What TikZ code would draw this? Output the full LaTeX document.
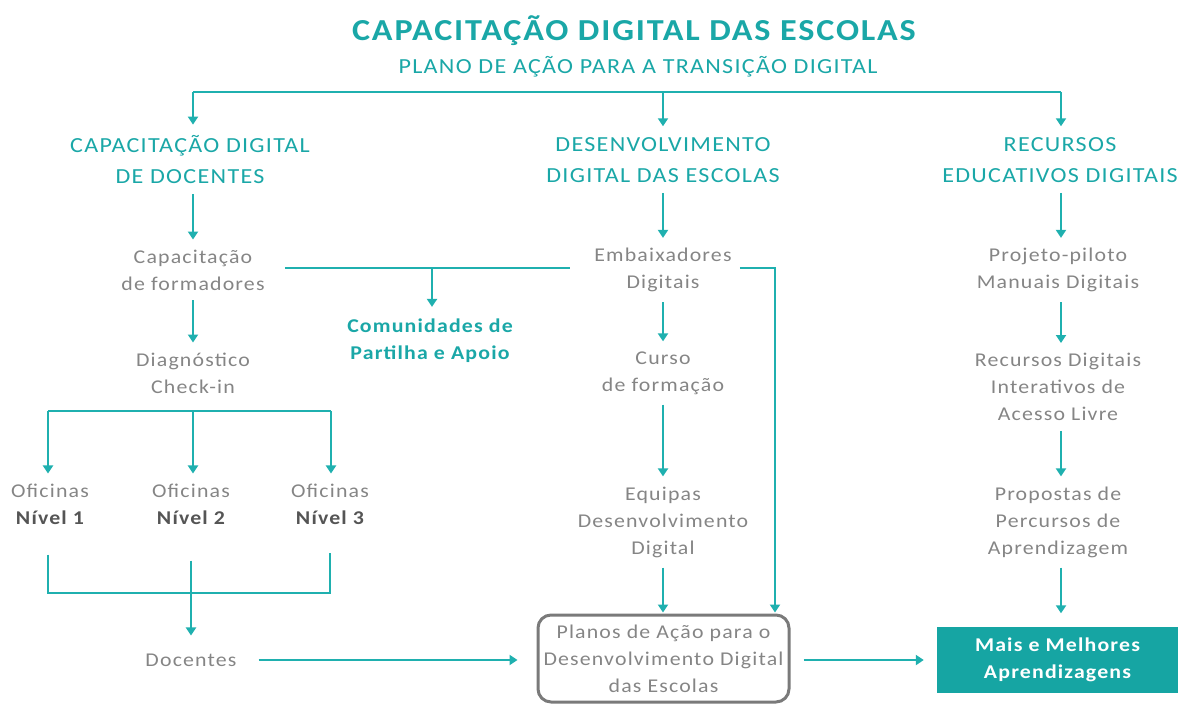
\documentclass[tikz,border=0pt]{standalone}
\usepackage{fontspec}
\setmainfont{Carlito}[FakeStretch=1.12, LetterSpace=6]
\usetikzlibrary{arrows.meta}

\definecolor{tealline}{HTML}{1FB0AF}
\definecolor{tealtext}{HTML}{1AA7A7}
\definecolor{tealbox}{HTML}{16A5A3}
\definecolor{greytext}{HTML}{858585}
\definecolor{greydark}{HTML}{555555}
\definecolor{greyframe}{HTML}{7A7A7A}

\tikzset{
  conn/.style={draw=tealline, line width=2.6pt},
  arr/.style={conn, -{Triangle[width=10pt,length=8pt]}},
  gap/.style={shorten <=#1, shorten >=#1},
}

\begin{document}
\begin{tikzpicture}[x=1pt, y=-1pt]
  \useasboundingbox (0,0) rectangle (1178,705);

  % titulo
  \node (title) at (634,31) [text=tealtext, font=\fontsize{30.5}{34}\selectfont\bfseries] {CAPACITAÇÃO DIGITAL DAS ESCOLAS};
  \node (sub) at (638,67) [text=tealtext, font=\fontsize{21.5}{25}\selectfont] {PLANO DE AÇÃO PARA A TRANSIÇÃO DIGITAL};

  % eixos
  \begin{scope}[every node/.style={align=center, inner sep=0pt, text=tealtext, font=\fontsize{21.5}{31}\selectfont}]
    \node (h1) at (190,160) {CAPACITAÇÃO DIGITAL\\DE DOCENTES};
    \node (h2) at (663,160) {DESENVOLVIMENTO\\DIGITAL DAS ESCOLAS};
    \node (h3) at (1060,160) {RECURSOS\\EDUCATIVOS DIGITAIS};
  \end{scope}

  % etapas
  \begin{scope}[every node/.style={align=center, inner sep=0pt, text=greytext, font=\fontsize{19.5}{27}\selectfont}]
    \node (cf) at (193,270) {Capacitação\\de formadores};
    \node (dg) at (193,373) {Diagnóstico\\Check-in};
    \node (o1) at (50,504) {Oficinas\\\textcolor{greydark}{\bfseries Nível 1}};
    \node (o2) at (191,504) {Oficinas\\\textcolor{greydark}{\bfseries Nível 2}};
    \node (o3) at (330,504) {Oficinas\\\textcolor{greydark}{\bfseries Nível 3}};
    \node (dc) at (191,660) {Docentes};

    \node (ed) at (663,270) {Embaixadores\\Digitais};
    \node (cu) at (663,373) {Curso\\de formação};
    \node (eq) at (663,522) {Equipas\\Desenvolvimento\\Digital};

    \node (pm) at (1058,270) {Projeto-piloto\\Manuais Digitais};
    \node (rd) at (1058,387) {Recursos Digitais\\Interativos de\\Acesso Livre};
    \node (pp) at (1058,522) {Propostas de\\Percursos de\\Aprendizagem};

    \node (com) at (430,341) [text=tealtext, font=\fontsize{19.5}{27}\selectfont\bfseries] {Comunidades de\\Partilha e Apoio};
  \end{scope}

  % resultados
  \node (pa) at (663.5,658.5) [draw=greyframe, line width=3pt, rounded corners=13pt,
    minimum width=251pt, minimum height=87pt, align=center, text=greytext,
    font=\fontsize{19.5}{27}\selectfont] {Planos de Ação para o\\Desenvolvimento Digital\\das Escolas};
  \node (mm) at (1057.5,659.5) [fill=tealbox, minimum width=241pt, minimum height=66pt,
    align=center, text=white, font=\fontsize{19.5}{27}\selectfont\bfseries] {Mais e Melhores\\Aprendizagens};

  % ligacoes
  \coordinate (t1) at (193,92);
  \coordinate (t2) at (663,92);
  \coordinate (t3) at (1061,92);
  \draw[conn] (t1) -- (t3);
  \draw[arr, shorten >=11pt] (t1) -- (h1.north -| t1);
  \draw[arr, shorten >=11pt] (t2) -- (h2);
  \draw[arr, shorten >=11pt] (t3) -- (h3.north -| t3);

  \draw[arr, gap=10pt] (h1.south -| cf) -- (cf);
  \draw[arr, gap=10pt] (h2) -- (ed);
  \draw[arr, gap=10pt] (h3.south -| t3) -- (pm.north -| t3);

  \draw[arr, gap=10pt] (cf) -- (dg);
  \draw[arr, gap=10pt] (ed) -- (cu);
  \draw[arr, gap=10pt] (pm.south -| t3) -- (rd.north -| t3);

  \coordinate (b1) at (48,411);
  \coordinate (b2) at (193,411);
  \coordinate (b3) at (331,411);
  \draw[conn] (b1) -- (b3);
  \draw[arr, shorten >=10pt] (b1) -- (o1.north -| b1);
  \draw[arr, shorten >=10pt] (b2) -- (o2.north -| b2);
  \draw[arr, shorten >=10pt] (b3) -- (o3.north -| b3);

  \coordinate (m1) at (48,593);
  \coordinate (m3) at (330,593);
  \draw[conn, shorten <=30pt, shorten >=28pt] (o1.south -| m1) -- (m1) -- (m3) -- (o3.south -| m3);
  \draw[arr, shorten <=36pt, shorten >=18pt] (o2) -- (dc);
  \draw[arr, shorten <=22pt, shorten >=19pt] (dc.east) -- (dc.east -| pa.west);

  \coordinate (cj) at (432,268);
  \coordinate (ej) at (775,268);
  \draw[conn, shorten <=20pt, shorten >=24pt] (cf.east |- cj) -- (ed.west |- cj);
  \draw[arr, shorten >=12pt] (cj) -- (com.north -| cj);
  \draw[arr, shorten <=8pt, shorten >=1pt] (ed.east |- ej) -- (ej) -- (ej |- pa.north);

  \draw[arr, gap=10pt] (cu) -- (eq);
  \draw[arr, shorten <=10pt, shorten >=1pt] (eq) -- (eq |- pa.north);
  \draw[arr, gap=10pt] (rd.south -| t3) -- (pp.north -| t3);
  \draw[arr, shorten <=10pt, shorten >=13pt] (pp.south -| t3) -- (mm.north -| t3);
  \draw[arr, gap=13pt] (pa.east |- dc) -- (mm.west |- dc);
\end{tikzpicture}
\end{document}
